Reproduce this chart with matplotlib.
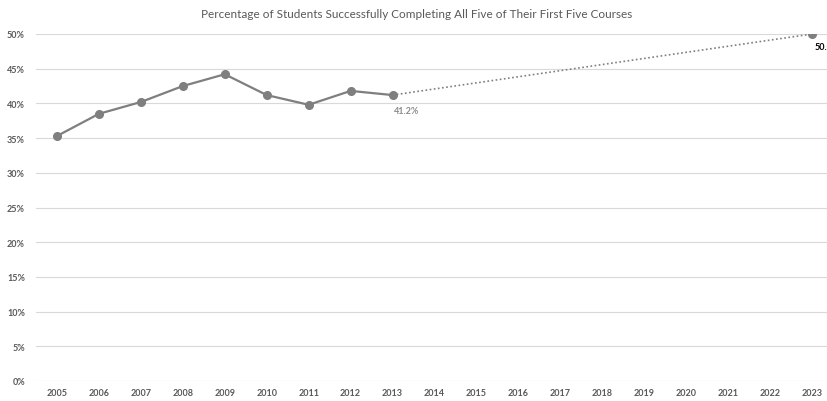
import matplotlib.pyplot as plt
from matplotlib.ticker import FuncFormatter

years = list(range(2005, 2024))
actual_years = [2005, 2006, 2007, 2008, 2009, 2010, 2011, 2012, 2013]
actual_pct = [35.3, 38.5, 40.2, 42.5, 44.2, 41.2, 39.8, 41.8, 41.2]
goal_years = [2013, 2023]
goal_pct = [41.2, 50.0]

plt.rcParams['font.family'] = ['Lato', 'DejaVu Sans']
plt.rcParams['font.weight'] = 'bold'

fig = plt.figure(figsize=(8.28, 4.02), dpi=100)
ax = fig.add_axes([36 / 828, 20 / 402, 797 / 828, 347 / 402])

line_col = '#7f7f7f'
ax.plot(goal_years, goal_pct, color=line_col, lw=1.2, ls=(0, (1, 1.5)), zorder=2)
ax.plot(goal_years[1:], goal_pct[1:], 'o', color=line_col, ms=5.5, zorder=3)
ax.plot(actual_years, actual_pct, '-o', color=line_col, lw=1.6, ms=5.5, zorder=3)

ax.annotate(f'{actual_pct[-1]:.1f}%', (actual_years[-1], actual_pct[-1]),
            xytext=(1, -11), textcoords='offset points', ha='left', va='center',
            fontsize=6.5, fontweight='bold', color='#8c8c8c', annotation_clip=False)
ax.annotate(f'{goal_pct[-1]:.1f}%', (goal_years[-1], goal_pct[-1]),
            xytext=(2, -9), textcoords='offset points', ha='left', va='center',
            fontsize=6.5, fontweight='bold', color='#000000', annotation_clip=False)

ax.set_xlim(2004.5, 2023.5)
ax.set_ylim(0, 50)
ax.set_xticks(years)
ax.set_yticks(range(0, 51, 5))
ax.yaxis.set_major_formatter(FuncFormatter(lambda v, p: f'{v:.0f}%'))
ax.tick_params(axis='both', length=0, labelsize=6.5, colors='#595959')
ax.tick_params(axis='x', pad=5)
ax.tick_params(axis='y', pad=8)
ax.grid(axis='y', color='#d9d9d9', lw=0.8)
ax.set_axisbelow(True)
for s in ax.spines.values():
    s.set_visible(False)

fig.text(417 / 828, 1 - 14 / 402, 'Percentage of Students Successfully Completing All Five of Their First Five Courses',
         ha='center', va='center', fontsize=8.5, color='#595959', fontweight='normal')

fig.savefig('out.png', dpi=100)
